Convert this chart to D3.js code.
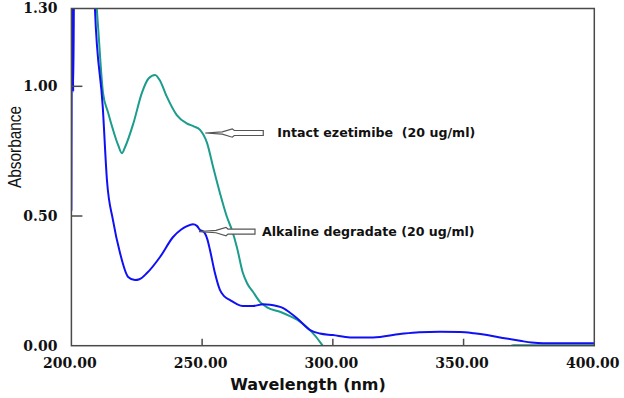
<html>
<head>
<script src="https://d3js.org/d3.v7.min.js"></script>
<style>
    body { margin: 0; background: #fff; }
    svg { display: block; }
    .tick-label { font-family: 'DejaVu Serif', serif; font-weight: bold; font-size: 14px; fill: #111; }
    .note { font-family: 'DejaVu Sans', sans-serif; font-weight: bold; font-size: 12.6px; fill: #111; white-space: pre; }
</style>
</head>
<body>
<svg id='the-chart' width=624 height=398></svg>
<script>

    // spectra (nm, absorbance)
    var intactWl  = [209, 210.2, 212.1, 214, 216, 218, 219.3, 220.5, 223.7, 226.9, 229.5, 232, 234, 236.5, 240.3, 244.1, 247, 249.2, 251.9, 254.2, 256.8, 259.5, 261.4, 263.3, 265.6, 267.2, 269.5, 272.2, 275, 280, 284, 286.3, 291.3, 295.9, 298, 330, 365, 369, 400];
    var intactAbs = [1.40, 1.23, 0.974, 0.9, 0.83, 0.77, 0.742, 0.765, 0.857, 0.973, 1.03, 1.044, 1.02, 0.96, 0.889, 0.857, 0.845, 0.832, 0.781, 0.689, 0.589, 0.496, 0.446, 0.38, 0.28, 0.241, 0.207, 0.168, 0.147, 0.13, 0.112, 0.1, 0.06, 0.003, -0.03, -0.04, -0.02, 0.002, 0.002];

    var alkalineWl  = [200, 200.3, 200.7, 201.1, 208.5, 209, 212, 213.6, 215.9, 218.6, 221.7, 224.3, 226, 228.9, 233.9, 238.9, 242, 244.2, 246.5, 248, 249.2, 250.5, 252, 253, 254.9, 256.8, 258.5, 260.7, 263, 265.6, 269.5, 273.3, 276, 278.5, 281, 283.5, 286.3, 291.3, 295, 300, 306.6, 315.4, 325.7, 333, 341, 348.7, 354, 359, 365, 371.6, 376, 380.4, 400];
    var alkalineAbs = [0.52, 1.5, 0.98, 1.5, 1.5, 1.3, 0.92, 0.638, 0.484, 0.357, 0.265, 0.253, 0.256, 0.28, 0.342, 0.419, 0.448, 0.461, 0.468, 0.462, 0.446, 0.44, 0.41, 0.369, 0.28, 0.215, 0.19, 0.176, 0.162, 0.153, 0.153, 0.16, 0.158, 0.153, 0.145, 0.128, 0.106, 0.06, 0.047, 0.041, 0.032, 0.032, 0.045, 0.052, 0.054, 0.053, 0.048, 0.041, 0.03, 0.019, 0.012, 0.009, 0.009];

    var xTicks = [200, 250, 300, 350, 400];
    var yTicks = [0, 0.5, 1.0, 1.3];

    var notes = [
        { text: 'Intact ezetimibe  (20 ug/ml)', wl: 251.2, abs: 0.82, len: 58, gap: 72 },
        { text: 'Alkaline degradate (20 ug/ml)', wl: 248.8, abs: 0.44, len: 56, gap: 63 }
    ];

    var svg = d3.select('#the-chart');
    var margin = { top: 8.5, left: 71.4, right: 29.7, bottom: 52.3 };
    var width = +svg.attr('width') - margin.left - margin.right;
    var height = +svg.attr('height') - margin.top - margin.bottom;
    var svgg = svg.append('g')
        .attr('transform', 'translate(' + margin.left + ',' + margin.top + ')');

    var x = d3.scaleLinear().domain([200, 400]).range([0, width]);
    var y = d3.scaleLinear().domain([0, 1.3]).range([height, 0]);

    svg.append('defs').append('clipPath').attr('id', 'plot-clip')
        .append('rect').attr('x', 0).attr('y', 0).attr('width', width).attr('height', height);

    var line = d3.line()
        .x(function(d) { return x(d[0]); })
        .y(function(d) { return y(d[1]); })
        .curve(d3.curveMonotoneX);

    var plot = svgg.append('g').attr('clip-path', 'url(#plot-clip)');

    plot.append('path')
        .datum(d3.zip(intactWl, intactAbs))
        .attr('d', line)
        .attr('fill', 'none')
        .attr('stroke', '#1c9c8c')
        .attr('stroke-width', 2);

    plot.append('path')
        .datum(d3.zip(alkalineWl, alkalineAbs))
        .attr('d', line)
        .attr('fill', 'none')
        .attr('stroke', '#1010f5')
        .attr('stroke-width', 2);

    // frame
    svgg.append('rect')
        .attr('width', width).attr('height', height)
        .attr('fill', 'none').attr('stroke', '#4a4a4a').attr('stroke-width', 1.5);

    // inner ticks
    svgg.selectAll('.xt').data(xTicks.slice(1, -1)).enter().append('line')
        .attr('x1', function(d) { return x(d); }).attr('x2', function(d) { return x(d); })
        .attr('y1', height).attr('y2', height - 7)
        .attr('stroke', '#4a4a4a').attr('stroke-width', 1.5);

    svgg.selectAll('.yt').data(yTicks.slice(1, -1)).enter().append('line')
        .attr('x1', 0).attr('x2', 11)
        .attr('y1', function(d) { return y(d); }).attr('y2', function(d) { return y(d); })
        .attr('stroke', '#4a4a4a').attr('stroke-width', 1.5);

    svgg.selectAll('.xl').data(xTicks).enter().append('text')
        .attr('class', 'tick-label')
        .attr('x', function(d) { return x(d) - 1.5; })
        .attr('y', height + 22)
        .attr('text-anchor', 'middle')
        .text(function(d) { return d3.format('.2f')(d); });

    svgg.selectAll('.yl').data(yTicks).enter().append('text')
        .attr('class', 'tick-label')
        .attr('x', -14)
        .attr('y', function(d) { return y(d); })
        .attr('dy', '0.35em')
        .attr('text-anchor', 'end')
        .text(function(d) { return d3.format('.2f')(d); });

    svg.append('text')
        .attr('x', margin.left + x(290.5))
        .attr('y', 390)
        .attr('font-family', 'DejaVu Sans, sans-serif')
        .attr('font-weight', 'bold')
        .attr('font-size', 16)
        .attr('fill', '#111')
        .attr('text-anchor', 'middle')
        .text('Wavelength (nm)');

    svg.append('text')
        .attr('transform', 'translate(21,147) rotate(-90)')
        .attr('font-family', 'Liberation Sans, sans-serif')
        .attr('font-size', 19)
        .attr('fill', '#111')
        .attr('text-anchor', 'middle')
        .attr('textLength', 82)
        .attr('lengthAdjust', 'spacingAndGlyphs')
        .text('Absorbance');

    // hollow arrows pointing at the curves
    var arrowShape = function(d) {
        var tx = x(d.wl), ty = y(d.abs);
        var pts = [[0, 0], [17, -1.2], [27, -4.2], [29, -2.5], [d.len, -2.5], [d.len, 2.5], [29, 2.5], [27, 4.2], [17, 1.2]];
        return pts.map(function(p) { return [tx + p[0], ty + p[1]]; });
    };

    var note = svgg.selectAll('.note-g').data(notes).enter().append('g');

    note.append('polygon')
        .attr('points', function(d) { return arrowShape(d).join(' '); })
        .attr('fill', '#fff')
        .attr('stroke', '#555')
        .attr('stroke-width', 1.2);

    note.append('text')
        .attr('class', 'note')
        .attr('x', function(d) { return x(d.wl) + d.gap; })
        .attr('y', function(d) { return y(d.abs); })
        .attr('dy', '0.35em')
        .text(function(d) { return d.text; });

</script>
</body>
</html>
